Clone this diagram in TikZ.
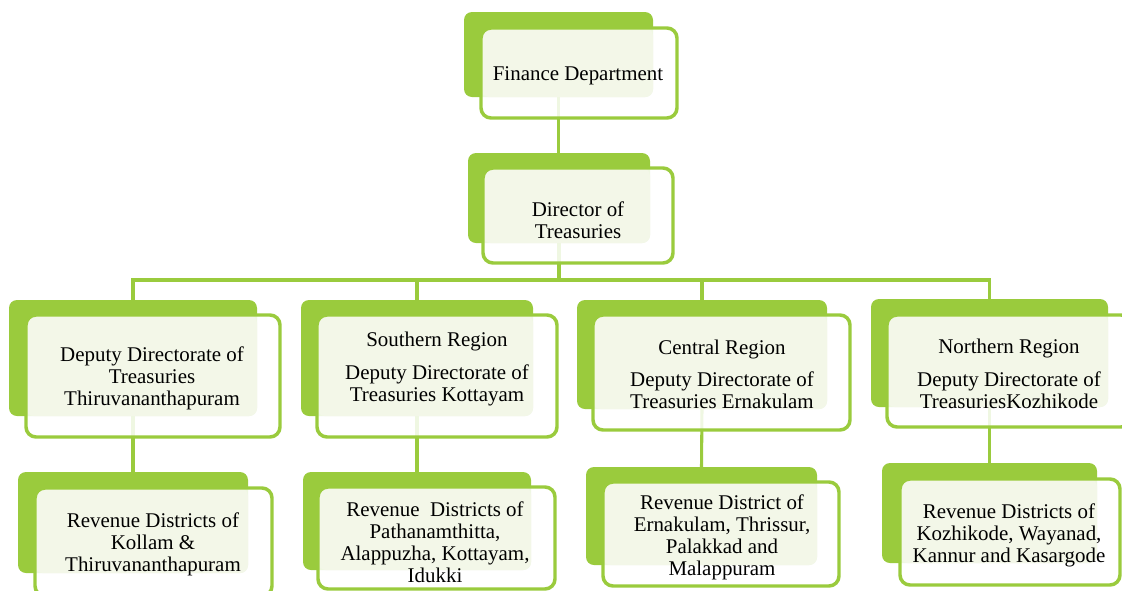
\documentclass[tikz,border=0pt]{standalone}
\usepackage{fontspec}
\setmainfont{Liberation Serif}
\usetikzlibrary{fit,backgrounds}
\definecolor{sgreen}{HTML}{9ACB3D}
\definecolor{slight}{HTML}{F3F7E8}
\tikzset{
 backbox/.style={fill=sgreen, rounded corners=6pt, inner sep=0pt, outer sep=0pt},
 frontfill/.style={fill=white, fill opacity=0.85, rounded corners=7.5pt},
 frontline/.style={draw=sgreen, line width=2.6pt, rounded corners=7.5pt},
 lightfill/.style={fill=slight, rounded corners=6pt},
 conn/.style={draw=sgreen, line width=2.3pt},
 lbl/.style={align=center, font=\fontsize{15.7}{16.5}\selectfont, text=black, inner sep=0pt, yshift=-1.8pt},
}
\newcommand\orgbox[7]{%
 \node[backbox, fit={#2 #3}] (b#1) {};
 \node[inner sep=0pt, outer sep=0pt, fit={#4 #5}] (f#1) {};
 \path[frontfill] (f#1.north west) rectangle (f#1.south east);
 \path[lightfill] (f#1.north west) rectangle (b#1.south east);
 \path[frontline] (f#1.north west) rectangle (f#1.south east);
 \node[lbl] (t#1) at #6 {#7};
}
\begin{document}
\begin{tikzpicture}[x=0.75pt, y=-0.75pt]
\useasboundingbox (0,0) rectangle (1122,590);
\clip (0,0) rectangle (1122,590);
\orgbox{1}{(464,12)}{(653,97)}{(481,28)}{(677,118)}{(578,73)}{Finance Department}
\orgbox{2}{(468,153)}{(650,243)}{(483,168)}{(673,263)}{(578,217.5)}{Director of\\Treasuries}
\orgbox{3}{(9,300)}{(257,416)}{(26,315)}{(280,437)}{(152,376)}{Deputy Directorate of\\Treasuries\\Thiruvananthapuram}
\orgbox{4}{(301,300)}{(533,416)}{(317,315)}{(557,437)}{(437,366.5)}{Southern Region\\[8pt]Deputy Directorate of\\Treasuries Kottayam}
\orgbox{5}{(577,300)}{(827,409)}{(593,315)}{(850,430)}{(722,372)}{Central Region\\[8pt]Deputy Directorate of\\Treasuries Ernakulam}
\orgbox{6}{(871,299)}{(1108,407)}{(887,315)}{(1131,427)}{(1009,371.5)}{Northern Region\\[8pt]Deputy Directorate of\\TreasuriesKozhikode}
\orgbox{7}{(18,472)}{(248,573)}{(35,488)}{(272,596)}{(153,541.5)}{Revenue Districts of\\Kollam \&\\Thiruvananthapuram}
\orgbox{8}{(303,472)}{(531,570)}{(318,487)}{(555,589)}{(435,540)}{Revenue\ \ Districts of\\Pathanamthitta,\\Alappuzha, Kottayam,\\Idukki}
\orgbox{9}{(586,467)}{(817,565)}{(603,482)}{(839,586)}{(722,535)}{Revenue District of\\Ernakulam, Thrissur,\\Palakkad and\\Malappuram}
\orgbox{10}{(882,463)}{(1097,563)}{(900,479)}{(1120,585)}{(1009,532.5)}{Revenue Districts of\\Kozhikode, Wayanad,\\Kannur and Kasargode}
\begin{scope}[on background layer]
\coordinate (bus) at (0,280);
\draw[conn] (b1.south) -- (b1.south |- b2.north);
\draw[conn] (b2.south) -- (b2.south |- bus);
\draw[conn] (b3.north) -- (b3.north |- bus) -- (b6.north |- bus) -- (b6.north);
\draw[conn] (b4.north) -- (b4.north |- bus);
\draw[conn] (b5.north) -- (b5.north |- bus);
\draw[conn] (b3.south) -- (b7.north);
\draw[conn] (b4.south) -- (b8.north);
\draw[conn] (b5.south) -- (b9.north);
\draw[conn] (b6.south) -- (b10.north);
\end{scope}
\end{tikzpicture}
\end{document}
